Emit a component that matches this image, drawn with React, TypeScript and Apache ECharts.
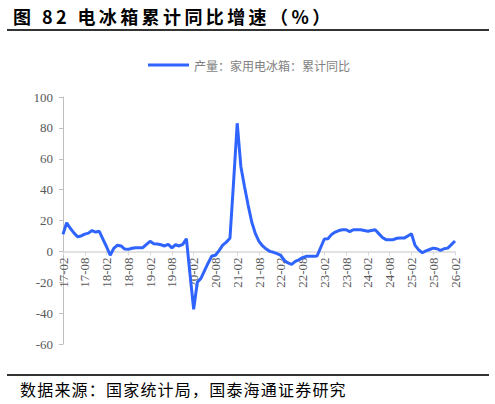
import React, { useEffect, useRef } from "react";
import * as echarts from "echarts";

// cumulative YoY growth of household refrigerator output (%), monthly from 17-02
const y2017 = [11, 18.5, 15, 12, 9.5, 10, 11.2, 11.8, 13.5, 12.5, 13];
const y2018 = [8, 3, -2.5, 2, 4, 3.5, 1.5, 1.3, 2, 2.4, 2.4, 2.4];
const y2019 = [4.5, 6.5, 5, 4.8, 4.3, 3.5, 4.5, 2.3, 4.3, 3.5, 4.5, 8.2];
const y2020 = [-15, -37.5, -20, -17.5, -12.5, -7.5, -3, -2.5, 0.5, 4, 6, 8.5];
const y2021 = [45, 83, 55, 42, 30, 19, 11.5, 6.5, 3.5, 1.5, 0, -0.6];
const y2022 = [-1.5, -2.6, -6, -7.5, -8.4, -6.5, -5.5, -4, -3.2, -3.2, -3.2, -3];
const y2023 = [2.5, 8, 8.2, 11, 12.5, 13.5, 14, 14, 12.8, 14, 14, 14];
const y2024 = [13.5, 13, 13.5, 14, 11.5, 9, 7.6, 7.6, 7.6, 8.5, 8.6, 8.6];
const y2025 = [10, 11.4, 3.9, 1, -0.9, 0.3, 1.2, 2.1, 1.7, 0.6, 1.7, 2.1];
const y2026 = [4.4, 6.7];

const values = [
  ...y2017, ...y2018, ...y2019, ...y2020, ...y2021,
  ...y2022, ...y2023, ...y2024, ...y2025, ...y2026,
];

// category labels "YY-MM", 17-02 .. 26-02
const categories: string[] = [];
for (let y = 17; y <= 26; y++) {
  for (let m = 1; m <= 12; m++) {
    if (y === 17 && m < 2) continue;
    if (y === 26 && m > 2) continue;
    categories.push(`${y}-${m < 10 ? "0" + m : m}`);
  }
}

const yMin = -60;
const yMax = 100;
const yStep = 20;

const seriesName = "产量：家用电冰箱：累计同比";
const title = "图 82 电冰箱累计同比增速（%）";
const source = "数据来源：国家统计局，国泰海通证券研究";

const GRID_TOP = 97;
const GRID_BOTTOM = 60;
const CHART_H = 404;

const App: React.FC = () => {
  const chartRef = useRef<HTMLDivElement>(null);

  useEffect(() => {
    document.body.style.margin = "0";
    if (!chartRef.current) return;
    const chart = echarts.init(chartRef.current, null, { renderer: "svg" });

    // lift the category axis (line, ticks, labels) up to the zero line
    const gridH = CHART_H - GRID_TOP - GRID_BOTTOM;
    const zeroOffset = -(gridH * (0 - yMin)) / (yMax - yMin);

    chart.setOption({
      animation: false,
      legend: {
        left: 143,
        top: 54,
        itemWidth: 41,
        itemHeight: 3,
        itemGap: 5,
        icon: "rect",
        textStyle: {
          color: "#7f7f7f",
          fontSize: 12,
          fontFamily: "Noto Sans CJK SC",
        },
        data: [seriesName],
      },
      grid: {
        left: 63,
        right: 40,
        top: GRID_TOP,
        bottom: GRID_BOTTOM,
        containLabel: false,
      },
      xAxis: {
        type: "category",
        data: categories,
        boundaryGap: false,
        position: "bottom",
        offset: zeroOffset,
        axisLine: {
          onZero: false,
          lineStyle: { color: "#d9d9d9", width: 1.5 },
        },
        axisTick: {
          show: true,
          interval: 5,
          length: 4,
          lineStyle: { color: "#d9d9d9" },
        },
        axisLabel: {
          interval: 5,
          rotate: 90,
          margin: 6,
          color: "#595959",
          fontSize: 13,
          fontFamily: "Liberation Serif",
        },
        splitLine: { show: false },
      },
      yAxis: {
        type: "value",
        min: yMin,
        max: yMax,
        interval: yStep,
        axisLine: {
          show: true,
          lineStyle: { color: "#bfbfbf", width: 1 },
        },
        axisTick: {
          show: true,
          length: 4,
          lineStyle: { color: "#bfbfbf" },
        },
        axisLabel: {
          margin: 10,
          color: "#595959",
          fontSize: 13,
          fontFamily: "Liberation Serif",
        },
        splitLine: { show: false },
      },
      series: [
        {
          name: seriesName,
          type: "line",
          data: values,
          showSymbol: false,
          symbol: "none",
          smooth: false,
          lineStyle: { color: "#3064ff", width: 3 },
          itemStyle: { color: "#3064ff" },
        },
      ],
    });

    return () => {
      chart.dispose();
    };
  }, []);

  return (
    <div
      style={{
        position: "relative",
        width: 495,
        height: 404,
        background: "#fff",
        overflow: "hidden",
      }}
    >
      <div ref={chartRef} style={{ position: "absolute", left: 0, top: 0, width: 495, height: 404 }} />
      <div
        style={{
          position: "absolute",
          left: 13,
          top: 5,
          fontFamily: "Noto Sans CJK SC",
          fontWeight: 700,
          fontSize: 18,
          letterSpacing: 3.4,
          lineHeight: "22px",
          color: "#000",
          whiteSpace: "nowrap",
        }}
      >
        {title}
      </div>
      <div style={{ position: "absolute", left: 7, top: 29, width: 482, height: 2, background: "#333" }} />
      <div style={{ position: "absolute", left: 7, top: 374, width: 482, height: 1.5, background: "#333" }} />
      <div
        style={{
          position: "absolute",
          left: 20,
          top: 379,
          fontFamily: "Noto Sans CJK SC",
          fontSize: 16,
          letterSpacing: 1.2,
          lineHeight: "20px",
          color: "#000",
          whiteSpace: "nowrap",
        }}
      >
        {source}
      </div>
    </div>
  );
};

export default App;
